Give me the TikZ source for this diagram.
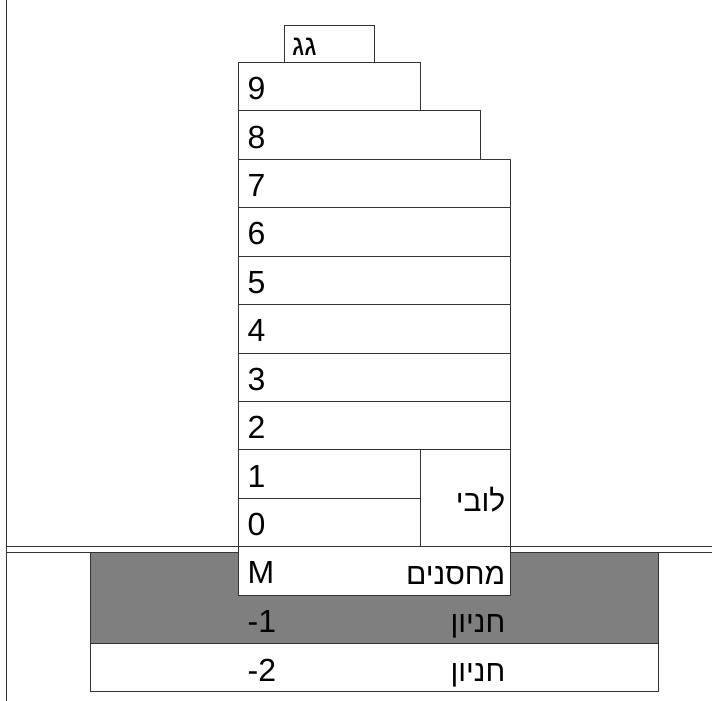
\documentclass[tikz,border=0pt]{standalone}
\usepackage{fontspec}
\setmainfont{Liberation Sans}
\newfontfamily\hebfont[Script=Hebrew]{Liberation Sans}
\TeXXeTstate=1
\usetikzlibrary{calc}
\tikzset{
  ln/.style={draw=black!80, line width=1pt},
  box/.style={ln, fill=white, inner sep=0pt, outer sep=0pt, anchor=north west},
  lbl/.style={font=\fontsize{32}{36}\selectfont, inner sep=0pt, text=black},
  heb/.style={font=\fontsize{30}{36}\selectfont\hebfont, inner sep=0pt, text=black},
}
\begin{document}
\begin{tikzpicture}[x=1pt,y=-1pt]
\useasboundingbox (0,0) rectangle (712,701);
% ground lines and left edge
\coordinate (vt) at (6.5,0);
\coordinate (vb) at (6.5,701);
\coordinate (g1l) at (6.5,546.7);
\coordinate (g1r) at (712,546.7);
\coordinate (g2l) at (6.5,552.7);
\coordinate (g2r) at (712,552.7);
\draw[ln] (vt) -- (vb);
\draw[ln] (g1l) -- (g1r);
\draw[ln] (g2l) -- (g2r);
% underground
\node[box, fill={rgb,255:red,127;green,127;blue,127}, minimum width=568pt, minimum height=90.8pt] (pk1) at (90,552.7) {};
\node[box, minimum width=568pt, minimum height=48.4pt] (pk2) at (90,643.5) {};
% building
\node[box, minimum width=90.3pt, minimum height=37pt] (roof) at (284,25.7) {};
\node[box, minimum width=182pt, minimum height=48pt] (f9) at (238,62.7) {};
\node[box, minimum width=242pt, minimum height=48.6pt] (f8) at (238,110.7) {};
\node[box, minimum width=272.5pt, minimum height=48.43pt] (f7) at (238,159.3) {};
\node[box, minimum width=272.5pt, minimum height=48.43pt] (f6) at (238,207.73) {};
\node[box, minimum width=272.5pt, minimum height=48.43pt] (f5) at (238,256.16) {};
\node[box, minimum width=272.5pt, minimum height=48.43pt] (f4) at (238,304.59) {};
\node[box, minimum width=272.5pt, minimum height=48.43pt] (f3) at (238,353.02) {};
\node[box, minimum width=272.5pt, minimum height=48.43pt] (f2) at (238,401.45) {};
\node[box, minimum width=182pt, minimum height=48.43pt] (f1) at (238,449.88) {};
\node[box, minimum width=182pt, minimum height=48.43pt] (f0) at (238,498.31) {};
\node[box, minimum width=90.5pt, minimum height=96.86pt] (lobby) at (420,449.88) {};
\node[box, minimum width=272.5pt, minimum height=48.4pt] (m) at (238,546.74) {};
% labels
\node[heb, anchor=base west, font=\fontsize{29}{32}\selectfont\hebfont] (troof) at ($(roof.west)+(8,11)$) {\beginR גג\endR};
\foreach \f/\t in {f9/9,f8/8,f7/7,f6/6,f5/5,f4/4,f3/3,f2/2,f1/1,f0/0,m/M}{
  \node[lbl, anchor=base west] (t\f) at ($(\f.west)+(9.5,13)$) {\t};
}
\node[heb, anchor=base east] (tlobby) at ($(lobby.east)+(-5,13)$) {\beginR לובי\endR};
\node[heb, anchor=base east] (tm) at ($(m.east)+(-5,13.5)$) {\beginR מחסנים\endR};
\coordinate (r1w) at ($(m.south west)+(9.5,24.2)$);
\coordinate (r1e) at ($(m.south east)+(-5,24.2)$);
\node[lbl, anchor=base west] (tpk1) at ($(r1w)+(0,13.5)$) {\beginL{-}\kern0pt 1\endL};
\node[heb, anchor=base east] (hpk1) at ($(r1e)+(0,13.5)$) {\beginR חניון\endR};
\coordinate (r2w) at ($(pk2.west)+(157.5,0)$);
\coordinate (r2e) at ($(m.east|-pk2.west)+(-5,0)$);
\node[lbl, anchor=base west] (tpk2) at ($(r2w)+(0,13.5)$) {\beginL{-}\kern0pt 2\endL};
\node[heb, anchor=base east] (hpk2) at ($(r2e)+(0,13.5)$) {\beginR חניון\endR};
\end{tikzpicture}
\end{document}
